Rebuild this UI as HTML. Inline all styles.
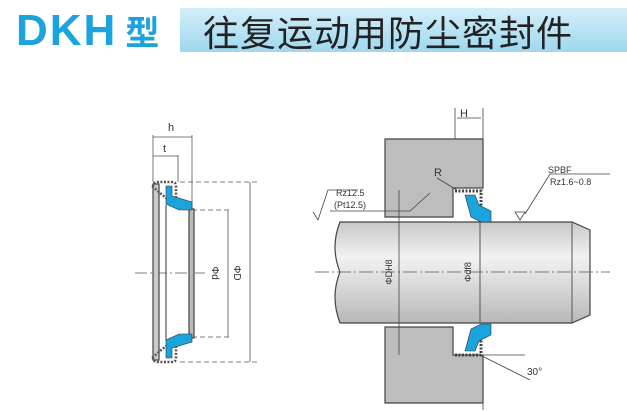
<!DOCTYPE html>
<html><head><meta charset="utf-8"><style>
body{margin:0;width:627px;height:412px;background:#fff;overflow:hidden;position:relative;font-family:"Liberation Sans","Noto Sans CJK SC",sans-serif}
.t1{position:absolute;left:16px;top:6px;font-size:44px;font-weight:bold;color:#1aa3dc;letter-spacing:2px;line-height:50px}
.band{position:absolute;left:180px;top:8px;width:447px;height:44px;background:linear-gradient(#d3eef8,#9fd8ef)}
.t2{position:absolute;left:203px;top:6px;font-size:36px;color:#222;letter-spacing:1px;line-height:50px}
</style></head><body>
<div class="t1">DKH<span style="font-family:'Noto Sans CJK SC',sans-serif;font-size:34px;margin-left:8px">型</span></div>
<div class="band"></div>
<div class="t2" style="font-family:'Noto Sans CJK SC',sans-serif">往复运动用防尘密封件</div>
<svg width="627" height="412" style="position:absolute;left:0;top:0" font-family="Liberation Sans,sans-serif">
<defs><linearGradient id="rod" x1="0" y1="0" x2="0" y2="1"><stop offset="0" stop-color="#c8c8c8"/><stop offset=".35" stop-color="#f2f2f2"/><stop offset="1" stop-color="#b8b8b8"/></linearGradient></defs>
<g stroke="#555" fill="none" stroke-width="0.8">
<line x1="153" y1="135" x2="153" y2="182"/><line x1="192" y1="135" x2="192" y2="210"/><line x1="178" y1="155" x2="178" y2="182"/>
<line x1="153" y1="137" x2="192" y2="137"/><line x1="153" y1="156" x2="178" y2="156"/>
<line x1="180" y1="182" x2="258" y2="182" stroke-dasharray="5 3"/><line x1="180" y1="362" x2="258" y2="362" stroke-dasharray="5 3"/>
<line x1="192" y1="210" x2="232" y2="210" stroke-dasharray="5 3"/><line x1="192" y1="337" x2="232" y2="337" stroke-dasharray="5 3"/>
<line x1="250" y1="182" x2="250" y2="362"/><line x1="228" y1="210" x2="228" y2="337"/>
<line x1="135" y1="273" x2="205" y2="273" stroke-dasharray="12 3 2 3"/>
</g>
<rect x="153" y="184" width="6" height="176" fill="#ccc" stroke="#444" stroke-width="1.2"/>
<line x1="166" y1="205" x2="166" y2="340" stroke="#555" stroke-width="1.2"/>
<rect x="189" y="209" width="5" height="129" fill="#bbb" stroke="#444" stroke-width="1.2"/>
<path d="M153 187 q0-5 5-5 h14 q4 0 4 4 v12 h-10 z" fill="none" stroke="#555" stroke-width="2.5" stroke-dasharray="2 1.5"/>
<path d="M153 357 q0 5 5 5 h14 q4 0 4-4 v-12 h-10 z" fill="none" stroke="#555" stroke-width="2.5" stroke-dasharray="2 1.5"/>
<path d="M166 186 h6 v10 l20 6 v8 h-13 l-13-6z" fill="#1aa3dc" stroke="#333" stroke-width=".6"/>
<path d="M166 358 h6 v-10 l20-6 v-8 h-13 l-13 6z" fill="#1aa3dc" stroke="#333" stroke-width=".6"/>
<text x="168" y="131" font-size="11" fill="#333">h</text><text x="163" y="152" font-size="11" fill="#333">t</text>
<text x="212" y="273" font-size="10" fill="#333" transform="rotate(90 212 273)" text-anchor="middle">Φd</text>
<text x="234" y="273" font-size="10" fill="#333" transform="rotate(90 234 273)" text-anchor="middle">ΦD</text>
<path d="M385 139 H483 V188 H453 V217 H385 Z" fill="#bdbdbd" stroke="#444" stroke-width="1.2"/>
<path d="M385 327 H453 V355 H483 V403 H385 Z" fill="#bdbdbd" stroke="#444" stroke-width="1.2"/>
<path d="M340 222 H572 L590 230 V315 L572 323 H340 Q330 297 340 272 Q330 247 340 222Z" fill="url(#rod)" stroke="#444" stroke-width="1.2"/>
<line x1="572" y1="222" x2="572" y2="323" stroke="#555"/>
<line x1="480" y1="222" x2="480" y2="323" stroke="#555"/>
<line x1="315" y1="272" x2="610" y2="272" stroke="#777" stroke-dasharray="14 3 2 3"/>
<path d="M455 191 h26 v24 M455 355 h26 v-24" stroke="#444" stroke-width="3" stroke-dasharray="2 1.5" fill="none"/>
<path d="M465 195 h10 l4 10 l12 6 v11 h-10 l-10-5z" fill="#1aa3dc" stroke="#333" stroke-width=".6"/>
<path d="M465 351 h10 l4-10 l12-6 v-11 h-10 l-10 5z" fill="#1aa3dc" stroke="#333" stroke-width=".6"/>
<g stroke="#444" fill="none" stroke-width=".8">
<line x1="455" y1="108" x2="455" y2="139"/><line x1="483" y1="108" x2="483" y2="139"/><line x1="457" y1="118" x2="481" y2="118"/>
<line x1="399" y1="190" x2="399" y2="355"/><line x1="483" y1="355" x2="483" y2="410"/>
<line x1="480" y1="355" x2="530" y2="380"/><line x1="483" y1="355" x2="525" y2="355"/>
<path d="M313 212 l5 8 l10-30 h30 M330 211 h80 l20-18"/>
<path d="M437 178 l20 12"/><path d="M520 220 l-5-8 h10z M525 214 l25-40 h60"/>
</g>
<text x="460" y="117" font-size="11" fill="#333">H</text>
<text x="434" y="176" font-size="11" fill="#333">R</text>
<text x="336" y="196" font-size="9" fill="#333">Rz12.5</text><text x="334" y="208" font-size="9" fill="#333">(Pt12.5)</text>
<text x="548" y="173" font-size="9" fill="#333">SPBF</text><text x="550" y="185" font-size="9" fill="#333">Rz1.6~0.8</text>
<text x="527" y="375" font-size="10" fill="#333">30°</text>
<text x="392" y="272" font-size="9" fill="#333" transform="rotate(-90 392 272)" text-anchor="middle">ΦDH8</text>
<text x="471" y="272" font-size="9" fill="#333" transform="rotate(-90 471 272)" text-anchor="middle">Φdf8</text>
</svg>
</body></html>
